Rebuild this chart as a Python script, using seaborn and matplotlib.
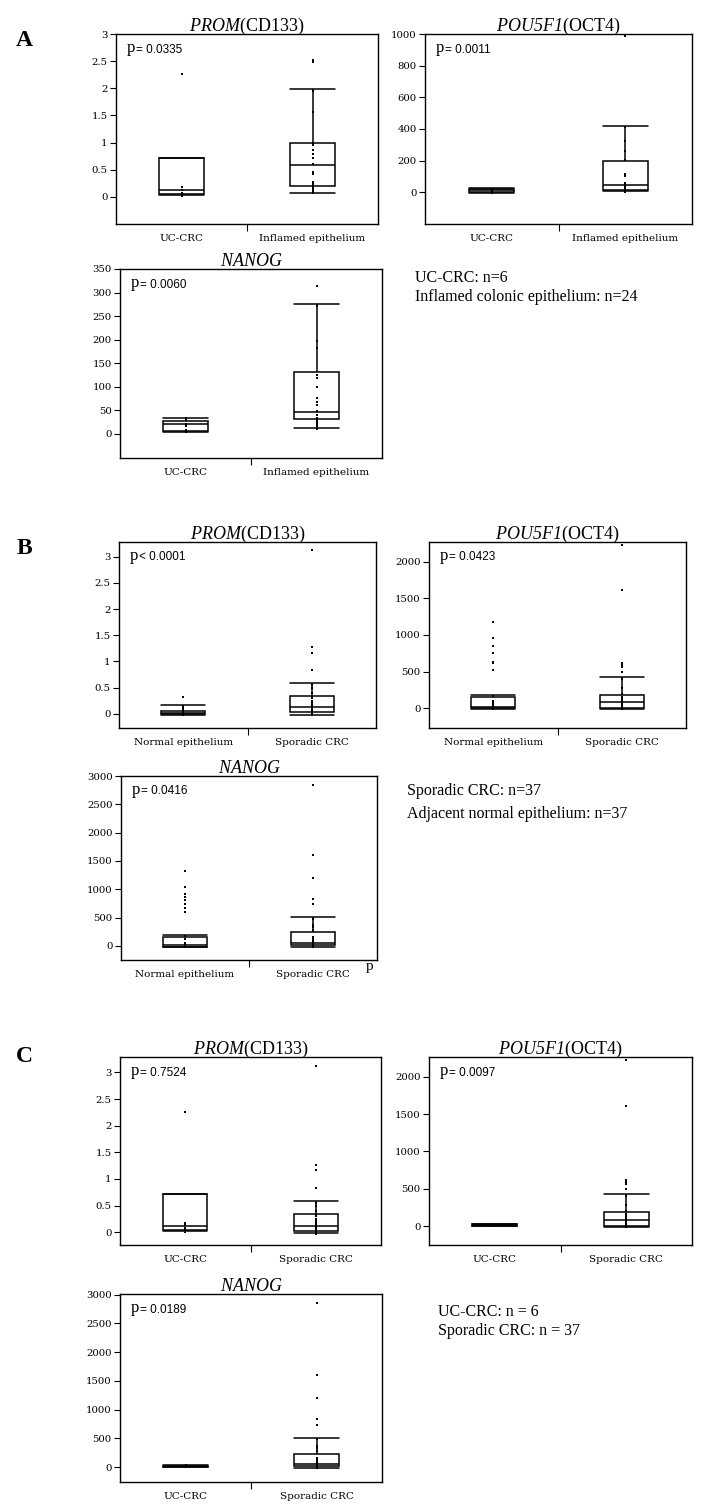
import matplotlib

matplotlib.use("Agg")

import matplotlib.pyplot as plt
import numpy as np
import pandas as pd
import seaborn as sns

prom_uc = [2.26, 0.18, 0.13, 0.08, 0.05, 0.01]
pou_uc = [18, 12, 10, 6, 2, -3]
nanog_uc = [33, 28, 21, 15, 8, 3]

prom_inf = [2.52, 2.48, 1.95, 1.57, 1.00, 0.95, 0.86, 0.79, 0.72, 0.60, 0.46, 0.42,
            0.27, 0.24, 0.21, 0.18, 0.15, 0.13, 0.12, 0.11, 0.10, 0.09, 0.08, 0.07]
pou_inf = [990, 415, 322, 258, 205, 118, 102, 62, 55, 48, 42, 36,
           30, 26, 22, 18, 15, 12, 10, 8, 6, 4, 3, 2]
nanog_inf = [313, 272, 196, 183, 125, 118, 99, 75, 67, 60, 47, 40,
             33, 28, 24, 20, 18, 16, 14, 13, 12, 11, 10, 9]

prom_norm = [0.32, 0.15, 0.12, 0.10, 0.08, 0.07, 0.06, 0.06, 0.05, 0.05, 0.04, 0.04,
             0.04, 0.03, 0.03, 0.03, 0.03, 0.02, 0.02, 0.02, 0.02, 0.02, 0.01, 0.01,
             0.01, 0.01, 0.01, 0.01, 0.0, 0.0, 0.0, 0.0, 0.0, 0.0, -0.01, -0.02, -0.03]
pou_norm = [1182, 964, 855, 750, 636, 614, 523, 168, 100, 80, 60, 45, 35, 28, 22, 18,
            15, 12, 10, 8, 7, 6, 5, 4, 3, 3, 2, 2, 1, 1, 0, 0, 0, -2, -5, -8, -12]
nanog_norm = [1328, 1033, 921, 870, 815, 740, 667, 596, 180, 120, 60, 45, 35, 28, 22,
              18, 15, 12, 10, 8, 7, 6, 5, 4, 3, 3, 2, 2, 1, 1, 0, 0, 0, -5, -10, -15, -20]

prom_spor = [3.12, 1.27, 1.17, 0.83, 0.55, 0.50, 0.40, 0.34, 0.30, 0.25, 0.22, 0.18,
             0.15, 0.13, 0.12, 0.11, 0.10, 0.09, 0.08, 0.07, 0.06, 0.05, 0.05, 0.04,
             0.04, 0.03, 0.03, 0.02, 0.02, 0.02, 0.01, 0.01, 0.01, 0.0, 0.0, -0.01, -0.03]
pou_spor = [2225, 1612, 622, 590, 560, 500, 405, 282, 195, 160, 130, 110, 100, 95, 88,
            80, 72, 65, 58, 50, 45, 40, 35, 30, 25, 20, 18, 15, 12, 10, 8, 6, 4, 2, 0, -5, -15]
nanog_spor = [2845, 1606, 1198, 832, 732, 482, 372, 330, 283, 160, 130, 100, 90, 80, 70,
              60, 55, 50, 45, 40, 35, 30, 28, 25, 22, 20, 18, 15, 12, 10, 8, 5, 3, 0, -5, -10, -20]

# box summaries as drawn: lower whisker, Q1, median, Q3, upper whisker
box_prom_uc = [0.03, 0.05, 0.12, 0.71, 0.71]
box_pou_uc = [-2, 2, 12, 24, 28]
box_nanog_uc = [4, 6, 20, 27, 33]
box_prom_inf = [0.07, 0.20, 0.59, 0.99, 1.98]
box_pou_inf = [8, 13, 45, 195, 421]
box_nanog_inf = [11, 30, 45, 130, 276]
box_prom_norm = [-0.02, -0.01, 0.02, 0.06, 0.16]
box_pou_norm = [-8, 0, 18, 148, 186]
box_nanog_norm = [-12, -10, 18, 165, 195]
box_prom_spor = [-0.02, 0.03, 0.125, 0.34, 0.59]
box_pou_spor = [-8, 3, 86, 188, 423]
box_nanog_spor = [-15, 20, 55, 238, 512]

labels_a = ["UC-CRC", "Inflamed epithelium"]
labels_b = ["Normal epithelium", "Sporadic CRC"]
labels_c = ["UC-CRC", "Sporadic CRC"]

title_prom = r"$\mathsf{PROM}$(CD133)"
title_pou = r"$\mathsf{POU5F1}$(OCT4)"
title_nanog = r"$\mathsf{NANOG}$"

sns.set_theme(style="white")
plt.rcParams["font.family"] = ["DejaVu Serif"]
plt.rcParams["text.color"] = "black"
plt.rcParams["xtick.color"] = "black"
plt.rcParams["ytick.color"] = "black"
plt.rcParams["mathtext.fontset"] = "custom"
plt.rcParams["mathtext.rm"] = "Liberation Serif"
plt.rcParams["mathtext.sf"] = "Liberation Serif:italic"
plt.rcParams["mathtext.it"] = "Liberation Serif:italic"

W, H = 713, 1511


def rect(left, top, right, bottom):
    return [left / W, 1 - bottom / H, (right - left) / W, (bottom - top) / H]


def draw_panel(ax, title, labels, points, boxes, ylim, ystep, ptext):
    box_df = pd.DataFrame({
        "group": np.repeat(labels, 5),
        "value": np.concatenate(boxes),
    })
    pts_df = pd.DataFrame({
        "group": np.repeat(labels, [len(p) for p in points]),
        "value": np.concatenate(points),
    })
    sns.boxplot(data=box_df, x="group", y="value", order=labels, ax=ax,
                width=0.34, whis=(0, 100), showfliers=False, color="white",
                linecolor="black", linewidth=1.1, capwidths=0.34)
    sns.stripplot(data=pts_df, x="group", y="value", order=labels, ax=ax,
                  jitter=False, color="black", size=2.0, marker="s",
                  linewidth=0, zorder=3)

    ax.set_xlim(-0.5, 1.5)
    ax.set_ylim(*ylim)
    yt = np.arange(0, ylim[1] + 1e-9, ystep)
    ax.set_yticks(yt, [f"{v:g}" for v in yt])
    ax.tick_params(axis="y", left=True, length=4, width=0.8, pad=2,
                   labelsize=7.3, colors="black")
    ax.set_xticks([0, 1], labels)
    ax.tick_params(axis="x", length=0, pad=7, labelsize=7.5, colors="black")
    ax.set_xticks([0.5], minor=True)
    ax.tick_params(axis="x", which="minor", bottom=True, length=5, width=0.8,
                   direction="out")
    ax.set_xlabel("")
    ax.set_ylabel("")
    for s in ax.spines.values():
        s.set_color("black")
        s.set_linewidth(1.0)
    ax.set_title(title, fontsize=13, pad=2, family="Liberation Serif",
                 color="black")

    t = ax.text(0.04, 0.925, "p", transform=ax.transAxes, fontsize=12,
                family="Liberation Serif", va="center", color="black")
    ax.annotate(ptext, xy=(1, 0.22), xycoords=t, xytext=(1, 0),
                textcoords="offset points", fontsize=8.5, color="black",
                family="Liberation Sans", va="baseline", ha="left")


fig = plt.figure(figsize=(W / 100, H / 100), dpi=100)

panels = [
    ((116, 34, 378, 224), title_prom, labels_a, [prom_uc, prom_inf],
     [box_prom_uc, box_prom_inf], (-0.5, 3), 0.5, "= 0.0335"),
    ((425, 34, 692, 224), title_pou, labels_a, [pou_uc, pou_inf],
     [box_pou_uc, box_pou_inf], (-200, 1000), 200, "= 0.0011"),
    ((120, 269, 382, 458), title_nanog, labels_a, [nanog_uc, nanog_inf],
     [box_nanog_uc, box_nanog_inf], (-52, 350), 50, "= 0.0060"),
    ((119, 542, 376, 728), title_prom, labels_b, [prom_norm, prom_spor],
     [box_prom_norm, box_prom_spor], (-0.27, 3.28), 0.5, "< 0.0001"),
    ((429, 542, 686, 728), title_pou, labels_b, [pou_norm, pou_spor],
     [box_pou_norm, box_pou_spor], (-268, 2268), 500, "= 0.0423"),
    ((121, 776, 377, 960), title_nanog, labels_b, [nanog_norm, nanog_spor],
     [box_nanog_norm, box_nanog_spor], (-248, 3000), 500, "= 0.0416"),
    ((120, 1057, 381, 1245), title_prom, labels_c, [prom_uc, prom_spor],
     [box_prom_uc, box_prom_spor], (-0.24, 3.29), 0.5, "= 0.7524"),
    ((429, 1057, 692, 1245), title_pou, labels_c, [pou_uc, pou_spor],
     [box_pou_uc, box_pou_spor], (-254, 2264), 500, "= 0.0097"),
    ((120, 1294, 382, 1482), title_nanog, labels_c, [nanog_uc, nanog_spor],
     [box_nanog_uc, box_nanog_spor], (-257, 3010), 500, "= 0.0189"),
]

for r, title, labels, pts, boxes, ylim, ystep, ptext in panels:
    ax = fig.add_axes(rect(*r))
    draw_panel(ax, title, labels, pts, boxes, ylim, ystep, ptext)

for letter, y in [("A", 40), ("B", 548), ("C", 1057)]:
    fig.text(24 / W, 1 - y / H, letter, fontsize=17, weight="bold",
             family="Liberation Serif", ha="center", va="center",
             color="black")

notes = [
    (415, 278, "UC-CRC: n=6"),
    (415, 297, "Inflamed colonic epithelium: n=24"),
    (407, 791, "Sporadic CRC: n=37"),
    (407, 814, "Adjacent normal epithelium: n=37"),
    (438, 1312, "UC-CRC: n = 6"),
    (438, 1331, "Sporadic CRC: n = 37"),
]
for x, y, s in notes:
    fig.text(x / W, 1 - y / H, s, fontsize=11.5, family="Liberation Serif",
             ha="left", va="center", color="black")

fig.text(370 / W, 1 - 966 / H, "p", fontsize=11, family="Liberation Serif",
         ha="center", va="center", color="black")

fig.savefig("out.png", dpi=100)
